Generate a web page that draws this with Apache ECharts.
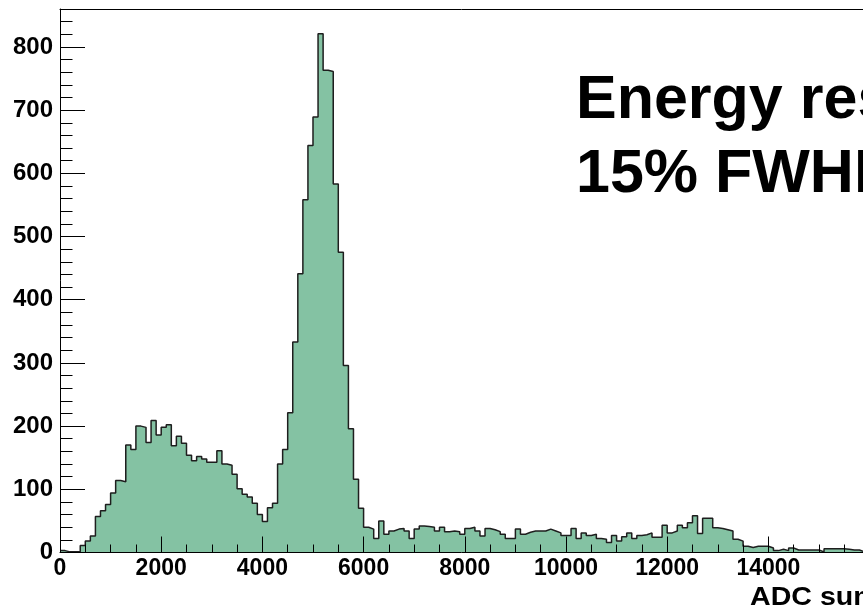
<!DOCTYPE html>
<html>
<head>
<meta charset="utf-8">
<script src="https://cdn.jsdelivr.net/npm/echarts@6/dist/echarts.min.js"></script>
<style>
    html, body { margin: 0; padding: 0; background: #fff; }
    #chart { width: 863px; height: 610px; }
</style>
</head>
<body>
<div id="chart"></div>
<script>
// histogram: 100 ADC counts per bin, starting at 0
const binWidth = 100;
const counts = [
    3, 1, 1, 1, 11, 18, 26, 57, 66, 76,
    94, 114, 112, 170, 163, 200, 198, 174, 209, 186,
    198, 202, 169, 184, 173, 154, 145, 152, 148, 143,
    143, 161, 140, 138, 124, 101, 92, 88, 78, 60,
    49, 71, 78, 140, 163, 221, 333, 441, 558, 644,
    689, 821, 763, 761, 583, 475, 296, 196, 116, 70,
    40, 37, 22, 50, 29, 34, 37, 38, 34, 22,
    37, 42, 41, 40, 34, 40, 33, 34, 33, 29,
    38, 40, 34, 26, 38, 36, 33, 29, 22, 22,
    37, 29, 32, 34, 34, 34, 37, 34, 31, 27,
    27, 38, 22, 31, 27, 29, 22, 21, 16, 27,
    18, 25, 31, 22, 27, 28, 31, 24, 24, 43,
    31, 34, 43, 39, 47, 58, 30, 54, 54, 39,
    38, 36, 34, 21, 18, 10, 8, 10, 10, 10,
    7, 3, 5, 3, 7, 4, 4, 4, 4, 4,
    1, 6, 6, 6, 6, 5, 4, 4, 1
];
const xTicks = [0, 2000, 4000, 6000, 8000, 10000, 12000, 14000];
const yTicks = [0, 100, 200, 300, 400, 500, 600, 700, 800];
const titleLines = ['Energy resolution', '15% FWHM'];
const xTitle = 'ADC sum';

// bin left edges for the step line, plus the right edge of the last bin
let points = [];
for (let i = 0; i < counts.length; i++) {
    points.push([i * binWidth, counts[i]]);
}
points.push([counts.length * binWidth, counts[counts.length - 1]]);

const labelFont = 'Liberation Sans';
let myChart = echarts.init(document.getElementById('chart'));
let option = {
    animation: false,
    backgroundColor: '#ffffff',
    grid: {
        left: 60,
        top: 9,
        right: 0,
        bottom: 57.5
    },
    xAxis: [
        {
            type: 'value',
            min: 0,
            max: 15870,
            interval: 2000,
            z: 10,
            axisLine: { lineStyle: { color: '#000', width: 1 } },
            axisTick: { inside: true, length: 16, lineStyle: { color: '#000' } },
            minorTick: { show: true, splitNumber: 4, length: 8, lineStyle: { color: '#000' } },
            splitLine: { show: false },
            axisLabel: {
                margin: 5,
                color: '#000',
                fontFamily: labelFont,
                fontWeight: 'bold',
                fontSize: 23,
                customValues: xTicks,
                formatter: (v) => String(v)
            }
        },
        {
            type: 'value',
            position: 'top',
            min: 0,
            max: 15870,
            z: 10,
            axisLine: { show: true, onZero: false, lineStyle: { color: '#000', width: 1 } },
            axisTick: { show: false },
            axisLabel: { show: false },
            splitLine: { show: false }
        }
    ],
    yAxis: {
        type: 'value',
        min: 0,
        max: 860,
        interval: 100,
        z: 10,
        axisLine: { show: true, lineStyle: { color: '#000', width: 1 } },
        axisTick: { inside: true, length: 25, lineStyle: { color: '#000' } },
        minorTick: { show: true, splitNumber: 5, length: 12.5, lineStyle: { color: '#000' } },
        splitLine: { show: false },
        axisLabel: {
            margin: 7,
            color: '#000',
            fontFamily: labelFont,
            fontWeight: 'bold',
            fontSize: 24,
            customValues: yTicks
        }
    },
    graphic: [
        {
            type: 'text',
            x: 576,
            y: 101,
            style: {
                text: titleLines[0],
                font: 'bold 61px "Liberation Sans"',
                fill: '#000',
                textAlign: 'left',
                textVerticalAlign: 'middle'
            }
        },
        {
            type: 'text',
            x: 576,
            y: 175,
            style: {
                text: titleLines[1],
                font: 'bold 61px "Liberation Sans"',
                fill: '#000',
                textAlign: 'left',
                textVerticalAlign: 'middle'
            }
        },
        {
            type: 'text',
            x: 750,
            y: 597.5,
            scaleX: 1.1,
            style: {
                text: xTitle,
                font: 'bold 26px "Liberation Sans"',
                fill: '#000',
                textAlign: 'left',
                textVerticalAlign: 'middle'
            }
        }
    ],
    series: [
        {
            type: 'line',
            step: 'end',
            symbol: 'none',
            data: points,
            lineStyle: { color: '#1e1e1e', width: 1.5 },
            areaStyle: { color: '#84c2a3', opacity: 1 }
        }
    ]
};
myChart.setOption(option);
</script>
</body>
</html>
